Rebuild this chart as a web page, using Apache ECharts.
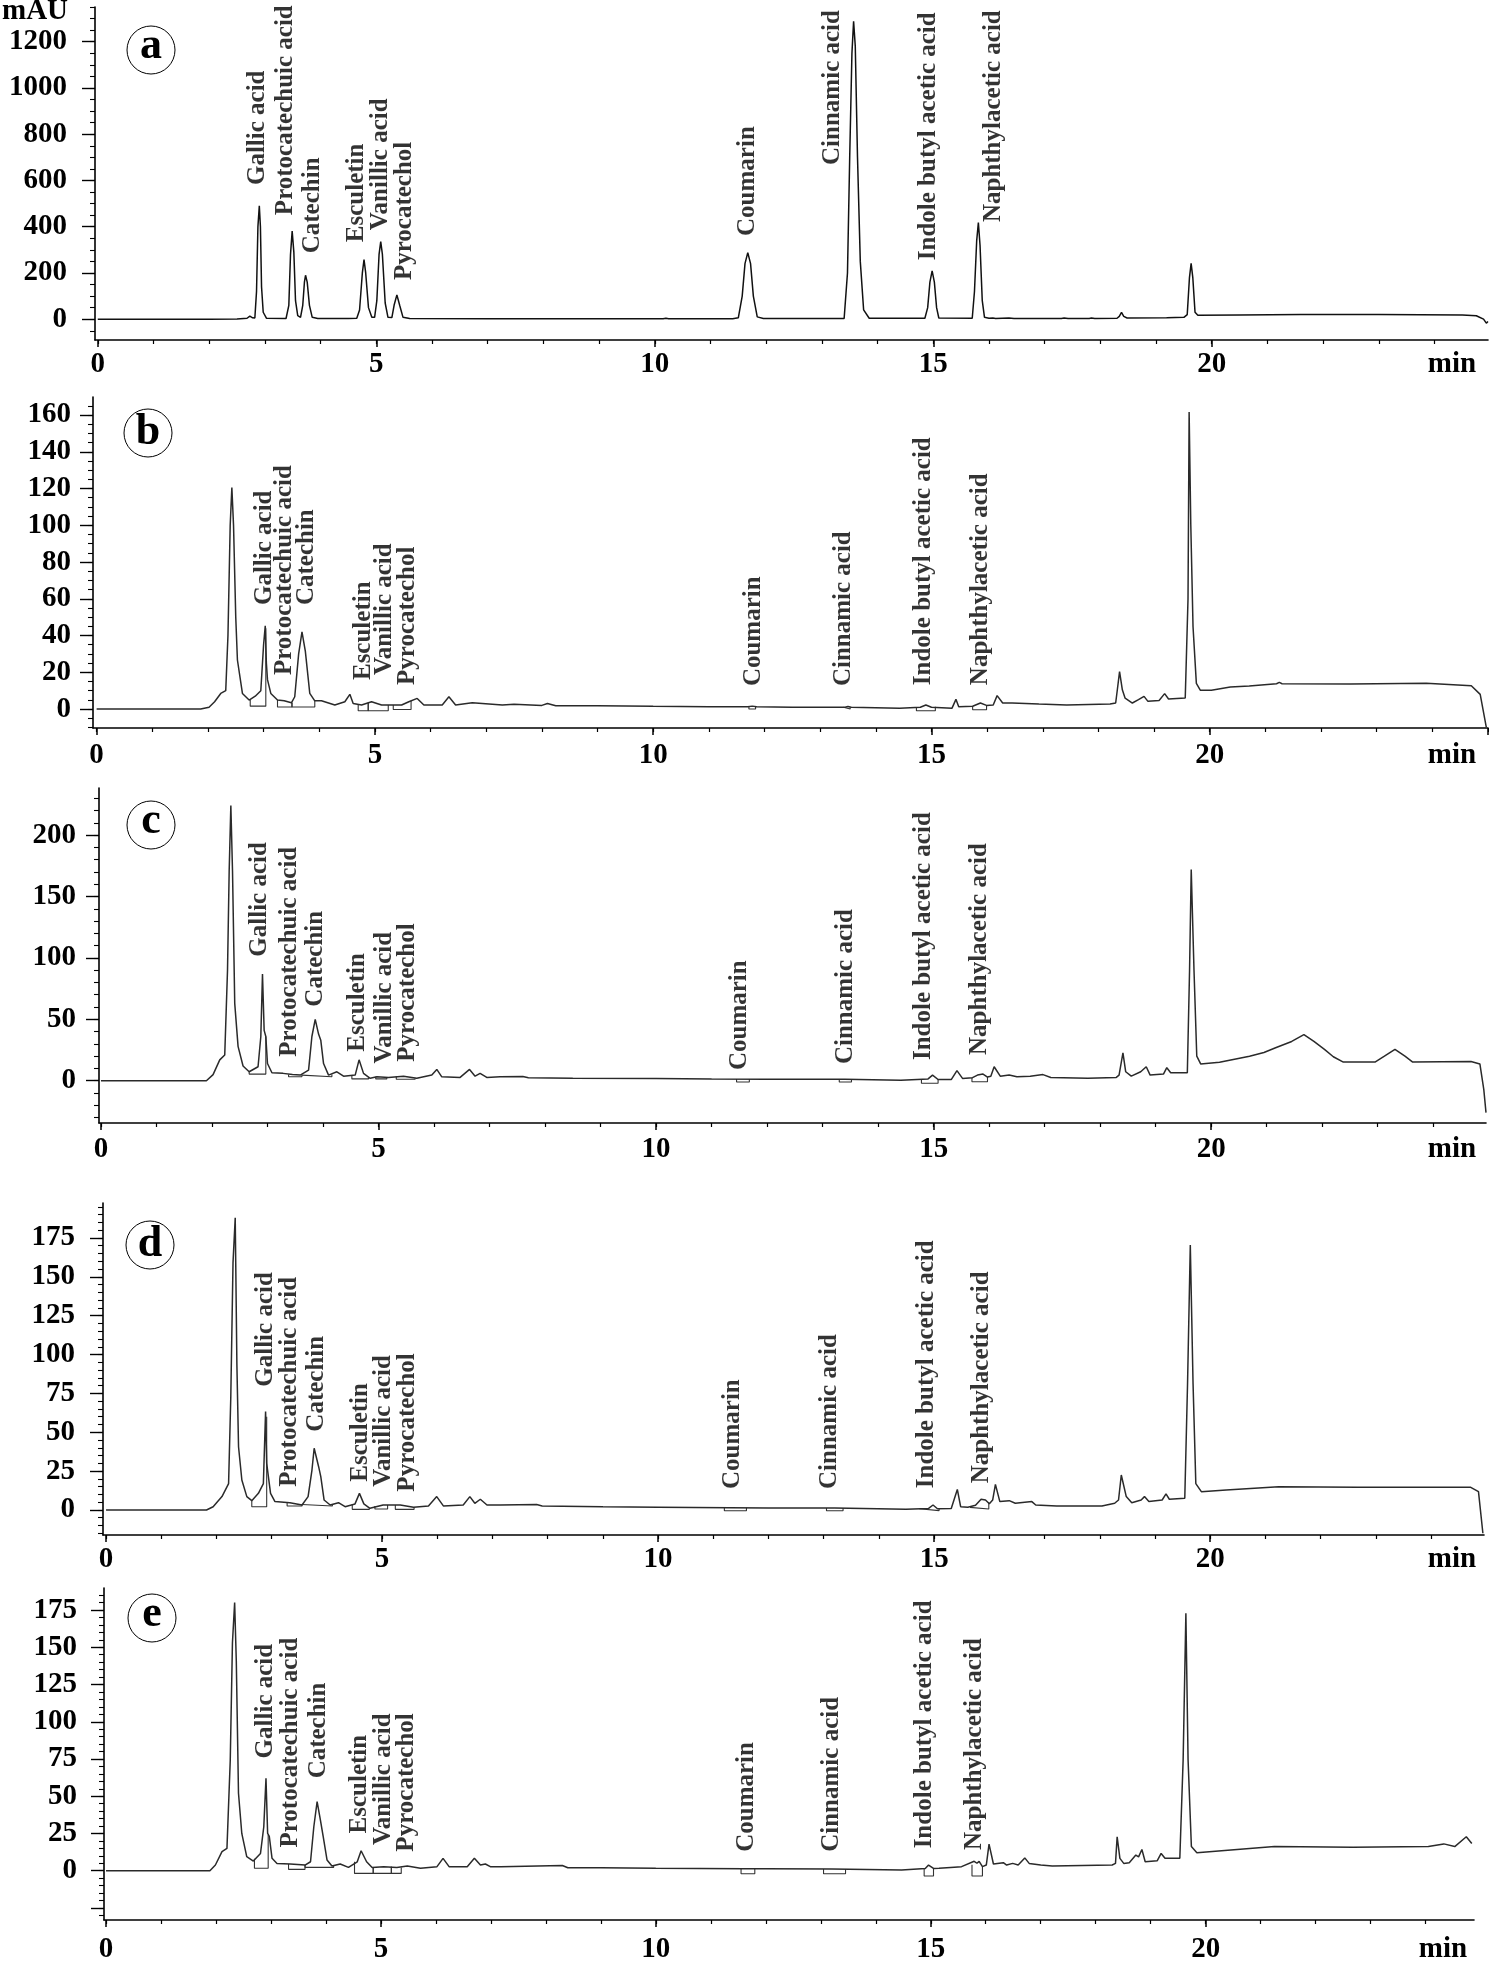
<!DOCTYPE html>
<html><head><meta charset="utf-8">
<script src="https://cdn.jsdelivr.net/npm/echarts@6/dist/echarts.min.js"></script>
<style>html,body{margin:0;padding:0;background:#fff}#c{width:1489px;height:1962px}</style>
</head><body><div id="c"></div>
<script>
// ---------------- DATA ----------------
const compounds = ['Gallic acid','Protocatechuic acid','Catechin','Esculetin','Vanillic acid','Pyrocatechol','Coumarin','Cinnamic acid','Indole butyl acetic acid','Naphthylacetic acid'];
const panelLetters = ['a','b','c','d','e'];
const xTickLabels = [0,5,10,15,20];
const yTickLabelsA = [0,200,400,600,800,1000,1200];
const yTickLabelsB = [0,20,40,60,80,100,120,140,160];
const yTickLabelsC = [0,50,100,150,200];
const yTickLabelsD = [0,25,50,75,100,125,150,175];
const yTickLabelsE = [0,25,50,75,100,125,150,175];

// chromatogram traces [time (min), signal (mAU)]
const traceA = [[0,0],[2.0,0],[2.5,1],[2.68,4],[2.73,13],[2.78,6],[2.82,5],[2.85,120],[2.875,400],[2.9,490],[2.92,400],[2.94,140],[2.97,30],[3.03,4],[3.38,3],[3.43,60],[3.46,280],[3.49,381],[3.52,290],[3.55,80],[3.59,15],[3.64,8],[3.68,60],[3.71,160],[3.73,190],[3.76,160],[3.8,60],[3.85,8],[3.95,3],[4.5,3],[4.65,4],[4.7,40],[4.75,200],[4.78,258],[4.81,200],[4.86,50],[4.92,8],[4.97,8],[5.01,80],[5.05,280],[5.08,336],[5.11,280],[5.16,70],[5.21,8],[5.28,7],[5.32,60],[5.37,105],[5.42,60],[5.48,8],[5.6,3],[7,2],[10.15,2],[10.2,4],[10.25,2],[11.4,2],[11.5,6],[11.57,100],[11.62,240],[11.67,288],[11.72,240],[11.77,100],[11.84,10],[11.95,3],[13.4,3],[13.46,200],[13.5,700],[13.54,1150],[13.57,1288],[13.6,1180],[13.64,700],[13.69,250],[13.75,40],[13.85,4],[14.85,4],[14.9,50],[14.94,160],[14.98,209],[15.02,160],[15.06,50],[15.1,5],[15.7,4],[15.74,120],[15.78,340],[15.81,418],[15.84,320],[15.88,80],[15.92,8],[16.0,4],[16.07,5],[16.12,3],[16.36,5],[16.45,3],[17.3,3],[17.35,5],[17.42,3],[17.8,3],[17.84,5],[17.9,3],[18.3,4],[18.34,12],[18.38,29],[18.42,12],[18.48,5],[19.19,6],[19.5,8],[19.56,20],[19.6,180],[19.63,241],[19.66,180],[19.7,30],[19.75,17],[20.5,18],[21.6,20],[23,20],[24.5,18],[24.75,15],[24.88,0],[24.93,-17],[24.96,-10]];
const traceB = [[0,0],[1.87,0],[2.02,1],[2.12,4],[2.23,8.5],[2.32,10],[2.36,40],[2.4,100],[2.43,120.5],[2.46,100],[2.5,50],[2.53,26.7],[2.62,8.5],[2.74,4.9],[2.85,7],[2.95,10],[3.0,35],[3.03,45.3],[3.05,25],[3.07,16],[3.13,8.5],[3.25,4.9],[3.37,4.5],[3.5,3.4],[3.56,6.7],[3.63,30],[3.69,42],[3.75,31.5],[3.83,8.5],[3.92,4.5],[4.04,4.5],[4.28,2.2],[4.46,4],[4.55,8],[4.61,3],[4.76,2.2],[4.94,4],[5.12,2.2],[5.48,2.2],[5.61,4],[5.76,5.8],[5.88,2.2],[6.21,2.2],[6.33,6.7],[6.45,2.2],[6.75,3.4],[7.29,2.2],[7.5,2.6],[8.0,2],[8.1,3],[8.25,1.8],[9,1.8],[10,1.5],[11,1.3],[11.7,1.2],[11.78,1.6],[11.86,1.2],[12.5,1],[13.45,1],[13.5,1.4],[13.56,1],[14.43,0.5],[14.8,1],[14.9,2.2],[15.0,1],[15.37,0.5],[15.44,5.3],[15.49,1.3],[15.74,1.5],[15.88,3.3],[15.99,2],[16.11,2.2],[16.18,7.3],[16.28,3.3],[16.45,3.3],[16.93,2.7],[17.43,2.2],[18.21,2.7],[18.31,3.3],[18.34,10.5],[18.38,20.4],[18.43,10.5],[18.48,5.9],[18.61,3.3],[18.72,5.1],[18.82,6.9],[18.89,4.2],[19.09,4.7],[19.19,8.4],[19.26,5.5],[19.56,6],[19.59,7],[19.61,60],[19.63,161.6],[19.66,100],[19.7,44.8],[19.76,14],[19.83,10.3],[20.03,10.3],[20.37,12],[20.71,12.5],[21.2,13.8],[21.25,14.5],[21.3,13.8],[22.53,13.6],[23.89,14],[24.7,12.7],[24.86,8],[24.97,-10]];
const traceC = [[0,0],[1.9,0],[2.02,5],[2.14,17],[2.23,21],[2.28,90],[2.31,171],[2.34,224],[2.37,171],[2.41,63],[2.47,28],[2.56,12],[2.67,7.3],[2.83,11.4],[2.88,36],[2.91,86.8],[2.94,41],[2.97,36],[3.0,14],[3.08,6.5],[3.28,6],[3.45,5],[3.59,4.6],[3.74,8.7],[3.8,36],[3.86,49.9],[3.92,38],[3.96,33],[4.01,14],[4.1,4.6],[4.25,7.3],[4.37,3.7],[4.58,4.6],[4.65,17],[4.73,6],[4.85,2],[4.97,3.2],[5.18,2.7],[5.45,3.7],[5.69,2],[5.96,4.6],[6.05,9.2],[6.14,3.2],[6.47,2.7],[6.64,9.2],[6.74,3.7],[6.83,6],[6.95,2.7],[7.19,3.2],[7.6,3.5],[7.7,2.5],[8.5,2],[10,1.8],[11,1.5],[12,1.3],[13.4,1.2],[14.41,0.5],[14.9,1.5],[14.98,4.6],[15.08,1],[15.32,1.1],[15.42,8.2],[15.52,1.9],[15.7,2.5],[15.79,4.6],[15.89,5.4],[15.97,3],[16.03,3.7],[16.09,11.4],[16.2,3.7],[16.36,4.6],[16.5,3.2],[16.74,3.7],[16.97,5],[17.11,2.7],[17.78,2],[18.29,2.7],[18.34,4.6],[18.41,22.6],[18.46,7.3],[18.56,3.7],[18.73,7.3],[18.83,11.4],[18.9,4.6],[19.14,5.4],[19.2,10.6],[19.27,6.5],[19.57,6.5],[19.61,90],[19.64,172],[19.69,90],[19.74,20],[19.81,13.7],[20.15,15],[20.69,20],[20.95,23],[21.16,26.8],[21.45,32],[21.67,37.6],[21.85,32],[22.04,25.5],[22.2,19.5],[22.38,15.2],[22.95,15.2],[23.12,20],[23.31,25.5],[23.49,20],[23.63,15.2],[24.68,15.7],[24.84,13.7],[24.91,-7],[24.95,-26]];
const traceD = [[0,0],[1.82,0],[1.94,2.1],[2.1,8.6],[2.22,17],[2.26,73],[2.3,159],[2.34,188],[2.37,94],[2.4,40.7],[2.46,19.3],[2.55,8.6],[2.64,6],[2.76,10.7],[2.85,17],[2.89,63.3],[2.91,30],[2.94,29],[2.98,10.7],[3.06,5.4],[3.33,4.7],[3.55,3.2],[3.66,8.6],[3.73,25.7],[3.77,39.7],[3.85,28],[3.89,21.4],[3.95,6.4],[4.06,3.2],[4.21,4.7],[4.33,2.1],[4.51,3.9],[4.59,10.7],[4.67,3.9],[4.78,1.1],[5.02,3.2],[5.33,3.2],[5.57,1.7],[5.84,2.6],[5.99,8.6],[6.11,2.6],[6.47,3.2],[6.59,8.6],[6.68,4.3],[6.78,6.9],[6.9,3.2],[7.14,3.2],[7.8,3.5],[7.9,2.5],[9,2],[10,1.8],[11.3,1.5],[12,1.3],[13.2,1.2],[14.49,0.4],[14.9,1],[14.98,3.2],[15.06,0.8],[15.31,1],[15.42,13.2],[15.48,2.1],[15.61,1.7],[15.75,3],[15.85,6.9],[15.93,6.4],[16.0,4],[16.06,6.4],[16.11,16.5],[16.19,5.4],[16.36,6],[16.47,4.3],[16.77,5.4],[16.84,3.2],[17.22,2.6],[18.04,2.6],[18.27,4.3],[18.34,6.4],[18.39,22.5],[18.48,8.6],[18.58,4.7],[18.75,6.4],[18.81,8.6],[18.89,5.4],[19.13,6.4],[19.2,10.3],[19.26,6.9],[19.54,7.5],[19.59,81],[19.64,170.5],[19.69,81],[19.74,17],[19.84,11.8],[20.29,12.9],[21.24,15],[22.67,14.6],[24.72,14.6],[24.86,11.8],[24.94,-15]];
const traceE = [[0,0],[1.89,0],[1.99,3.8],[2.11,12.8],[2.2,15],[2.26,74],[2.3,153],[2.34,180],[2.37,141],[2.41,52],[2.47,25],[2.56,9.4],[2.68,6.5],[2.81,11.6],[2.87,29.5],[2.91,62],[2.94,25],[2.97,23],[3.02,8.3],[3.11,4.9],[3.35,4.5],[3.62,3.8],[3.72,6],[3.78,29.5],[3.84,46.4],[3.9,34],[3.95,23],[4.02,7.2],[4.11,3.1],[4.26,4.5],[4.41,2.2],[4.57,6],[4.64,13.4],[4.74,6],[4.84,2.2],[5.05,2.7],[5.29,2.2],[5.48,3.1],[5.72,1.6],[6.02,2.7],[6.13,8.3],[6.24,2.7],[6.57,2.7],[6.7,8.3],[6.81,3.8],[6.9,4.5],[6.99,2.7],[7.18,2.7],[8.3,3.5],[8.4,2],[9,2],[10,1.6],[11.6,1.3],[12,1.3],[13.2,1.2],[14.47,0.4],[14.9,1.5],[14.96,3.8],[15.05,1.5],[15.15,1.6],[15.36,2.2],[15.56,2.7],[15.79,6.3],[15.84,5],[15.88,6.3],[15.94,2.7],[16.01,3.8],[16.06,17.8],[16.14,4.5],[16.32,5.4],[16.38,3.8],[16.49,4.9],[16.59,3.8],[16.71,8.6],[16.79,4.9],[17.0,3.8],[17.21,3.1],[18.3,3.8],[18.36,4.9],[18.39,22.8],[18.44,8.3],[18.51,4.9],[18.61,5.4],[18.73,10.5],[18.78,9.3],[18.84,14.2],[18.9,6],[19.12,6.7],[19.19,11.6],[19.26,8.3],[19.53,8.3],[19.59,74.3],[19.64,172.8],[19.68,74.3],[19.74,16.2],[19.84,12.1],[20.29,13.4],[21.25,16.2],[22.68,15.7],[24.05,16.2],[24.33,18],[24.53,16.2],[24.74,22.8],[24.84,18.3]];

// integration baseline boxes [tStart, tEnd, bottom, leftTop, rightTop]
const boxesB = [[2.76,3.04,1.6,5,44],[3.25,3.51,1.1,4.9,3.4],[3.51,3.92,1.1,3.4,4.5],[4.7,4.88,-0.9,2.5,3.5],[4.88,5.24,-0.9,3.5,2.2],[5.33,5.65,-0.2,2.2,4.5],[11.72,11.84,0,1.2,1.2],[13.42,13.54,0,1,1],[14.73,15.07,-0.9,1,1.2],[15.74,15.99,-0.4,1.5,2]];
const boxesC = [[2.67,2.97,5.4,7.3,36],[3.38,3.62,3.2,5,4.6],[3.62,4.16,3.2,4.6,5],[4.52,4.82,1.5,4.6,2.5],[4.95,5.15,1.5,3.2,2.7],[5.32,5.66,1.2,3.7,2],[11.45,11.68,-1,1.5,1.5],[13.3,13.52,-1,1.3,1.3],[14.78,15.08,-2.1,1.5,1.5],[15.69,15.97,-0.8,2.5,3]];
const boxesD = [[2.64,2.91,2.1,6,60],[3.28,3.55,2.6,4.7,3.5],[3.55,4.1,2.6,3.5,3.2],[4.46,4.77,0.4,3.9,1.1],[4.87,5.1,0.6,2.5,3.2],[5.24,5.58,0.4,3.2,1.7],[11.2,11.6,-0.5,1.5,1.5],[13.05,13.35,-0.5,1.2,1.2],[14.73,15.09,-0.4,0.8,1],[15.65,15.99,0.6,1.7,5]];
const boxesE = [[2.7,2.95,1.6,8,24],[3.32,3.62,0.9,4.5,3.8],[3.62,4.14,2.2,3.8,3.1],[4.52,4.86,-1.8,6,2.2],[4.86,5.19,-1.8,2.2,2.7],[5.19,5.37,-1.8,2.7,2.2],[11.55,11.8,-2,1.3,1.3],[13.05,13.45,-2,1.2,1.2],[14.88,15.05,-3.6,1.5,1.5],[15.75,15.94,-3.6,4,2.7]];

// peak label anchors [time, signal at bottom of text], in compounds order
const labelsA = [[2.86,580],[3.38,450],[3.85,285],[4.64,333],[5.07,385],[5.5,169],[11.66,360],[13.19,667],[14.92,255],[16.08,420]];
const labelsB = [[3.01,56.6],[3.37,18.5],[3.78,56.6],[4.79,15.8],[5.18,18.5],[5.59,13.1],[11.8,12.5],[13.42,12.5],[14.86,13],[15.88,13]];
const labelsC = [[2.85,101],[3.39,19.6],[3.86,60.3],[4.62,23.6],[5.1,14],[5.52,15.5],[11.5,8.7],[13.42,13.6],[14.82,16.8],[15.82,21]];
const labelsD = [[2.89,79.3],[3.33,14.9],[3.81,50.4],[4.61,18.2],[5.03,14.9],[5.46,11.8],[11.34,13.5],[13.1,13.5],[14.86,14],[15.85,17.2]];
const labelsE = [[2.91,75.4],[3.35,15.5],[3.86,62],[4.62,25],[5.04,17.2],[5.47,12.8],[11.65,12.7],[13.2,12.7],[14.89,15],[15.8,13.9]];

// ---------------- LAYOUT ----------------
const FONT = '"Liberation Serif","Times New Roman",serif';
const layouts = [
  {left:95, top:7, width:1393, height:333, xMin:-0.05, xMax:24.96, yMin:-90, yMax:1350, yLab:yTickLabelsA, yMajorTicks:yTickLabelsA, minor:50, ylm:28, xlm:10, cx:151, cy:50, minX:1452, color:'#111'},
  {left:93, top:397, width:1395, height:331, xMin:-0.065, xMax:25.0, yMin:-10.3, yMax:169.8, yLab:yTickLabelsB, yMajorTicks:yTickLabelsB, minor:5, ylm:22, xlm:13, cx:148, cy:433, minX:1452, color:'#2a2a2a'},
  {left:99, top:788, width:1387, height:335, xMin:-0.035, xMax:24.95, yMin:-34.4, yMax:238.3, yLab:yTickLabelsC, yMajorTicks:yTickLabelsC, minor:10, ylm:23, xlm:12, cx:151, cy:825, minX:1452, color:'#2a2a2a'},
  {left:103, top:1203, width:1381, height:332, xMin:-0.055, xMax:24.96, yMin:-16.1, yMax:197.5, yLab:yTickLabelsD, yMajorTicks:yTickLabelsD, minor:5, ylm:28, xlm:10, cx:150, cy:1245, minX:1452, color:'#2a2a2a'},
  {left:104, top:1588, width:1370, height:332, xMin:-0.036, xMax:24.88, yMin:-33.1, yMax:189.8, yLab:yTickLabelsE, yMajorTicks:[-25].concat(yTickLabelsE), minor:5, ylm:27, xlm:15, cx:152, cy:1618, minX:1443, color:'#2a2a2a'}
];
const traces = [traceA, traceB, traceC, traceD, traceE];
const boxes = [[], boxesB, boxesC, boxesD, boxesE];
const labels = [labelsA, labelsB, labelsC, labelsD, labelsE];

const grid = [], xAxis = [], yAxis = [], series = [], graphic = [];
const axisColor = '#000';
const labelFont = {fontFamily:FONT, fontWeight:'bold', fontSize:29, color:'#000', formatter: v => String(v)};

layouts.forEach((L, i) => {
  grid.push({left:L.left, top:L.top, width:L.width, height:L.height, containLabel:false, outerBoundsMode:'none'});
  const xMinorTicks = []; for (let v = 0; v <= L.xMax + 1e-9; v += 1) xMinorTicks.push(v);
  const xMajorTicks = [0,5,10,15,20,25].filter(v => v <= L.xMax);
  xAxis.push({type:'value', gridIndex:i, position:'bottom', min:L.xMin, max:L.xMax,
    axisLine:{show:true, onZero:false, lineStyle:{color:axisColor, width:1.6}},
    axisTick:{show:true, customValues:xMajorTicks, length:7, lineStyle:{color:axisColor, width:1.5}},
    axisLabel:Object.assign({show:true, customValues:xTickLabels, margin:L.xlm}, labelFont),
    splitLine:{show:false}});
  xAxis.push({type:'value', gridIndex:i, position:'bottom', min:L.xMin, max:L.xMax,
    axisLine:{show:false, onZero:false},
    axisTick:{show:true, customValues:xMinorTicks, length:4, lineStyle:{color:axisColor, width:1.2}},
    axisLabel:{show:false}, splitLine:{show:false}});
  const yMinorTicks = [];
  for (let v = Math.ceil(L.yMin / L.minor) * L.minor; v <= L.yMax; v += L.minor) yMinorTicks.push(v);
  yAxis.push({type:'value', gridIndex:i, position:'left', min:L.yMin, max:L.yMax,
    axisLine:{show:true, onZero:false, lineStyle:{color:axisColor, width:1.6}},
    axisTick:{show:true, customValues:L.yMajorTicks, length:13, lineStyle:{color:axisColor, width:1.4}},
    axisLabel:Object.assign({show:true, customValues:L.yLab, margin:L.ylm}, labelFont),
    splitLine:{show:false}});
  yAxis.push({type:'value', gridIndex:i, position:'left', min:L.yMin, max:L.yMax,
    axisLine:{show:false, onZero:false},
    axisTick:{show:true, customValues:yMinorTicks, length:5, lineStyle:{color:axisColor, width:1.1}},
    axisLabel:{show:false}, splitLine:{show:false}});

  series.push({type:'line', xAxisIndex:2*i, yAxisIndex:2*i, data:traces[i], showSymbol:false, symbol:'none',
    lineStyle:{color:L.color, width:1.5}, silent:true, z:3, clip:true});
  boxes[i].forEach(b => {
    series.push({type:'line', xAxisIndex:2*i, yAxisIndex:2*i,
      data:[[b[0],b[3]],[b[0],b[2]],[b[1],b[2]],[b[1],b[4]]],
      symbol:'none', lineStyle:{color:'#333', width:1.1}, silent:true, z:2});
  });
  series.push({type:'scatter', xAxisIndex:2*i, yAxisIndex:2*i, symbolSize:1,
    itemStyle:{color:'rgba(0,0,0,0)'}, silent:true, z:5,
    data:labels[i].map((p,k) => [p[0], p[1], compounds[k]]),
    label:{show:true, position:'inside', rotate:90, align:'left', verticalAlign:'middle',
      formatter:p => p.data[2], fontFamily:FONT, fontWeight:'bold', fontSize:25, color:'#000'}});

  graphic.push({type:'circle', shape:{cx:L.cx, cy:L.cy, r:24}, style:{fill:'none', stroke:'#000', lineWidth:1}, z:10});
  graphic.push({type:'text', x:L.cx, y:L.cy + (panelLetters[i]==='a'||panelLetters[i]==='c'||panelLetters[i]==='e' ? -3 : 0),
    style:{text:panelLetters[i], font:'bold 44px ' + FONT, align:'center', verticalAlign:'middle', textAlign:'center', textVerticalAlign:'middle', fill:'#000'}, z:10});
  const axisY = L.top + L.height;
  graphic.push({type:'text', x:L.minX, y:axisY + L.xlm,
    style:{text:'min', font:'bold 29px ' + FONT, align:'center', verticalAlign:'top', textAlign:'center', textVerticalAlign:'top', fill:'#000'}, z:10});
});
graphic.push({type:'text', x:2, y:12, style:{text:'mAU', font:'bold 29px ' + FONT, align:'left', verticalAlign:'middle', textAlign:'left', textVerticalAlign:'middle', fill:'#000'}, z:10});

const chart = echarts.init(document.getElementById('c'), null, {renderer:'canvas'});
chart.setOption({animation:false, backgroundColor:'#fff', grid, xAxis, yAxis, series, graphic});
</script>
</body></html>
